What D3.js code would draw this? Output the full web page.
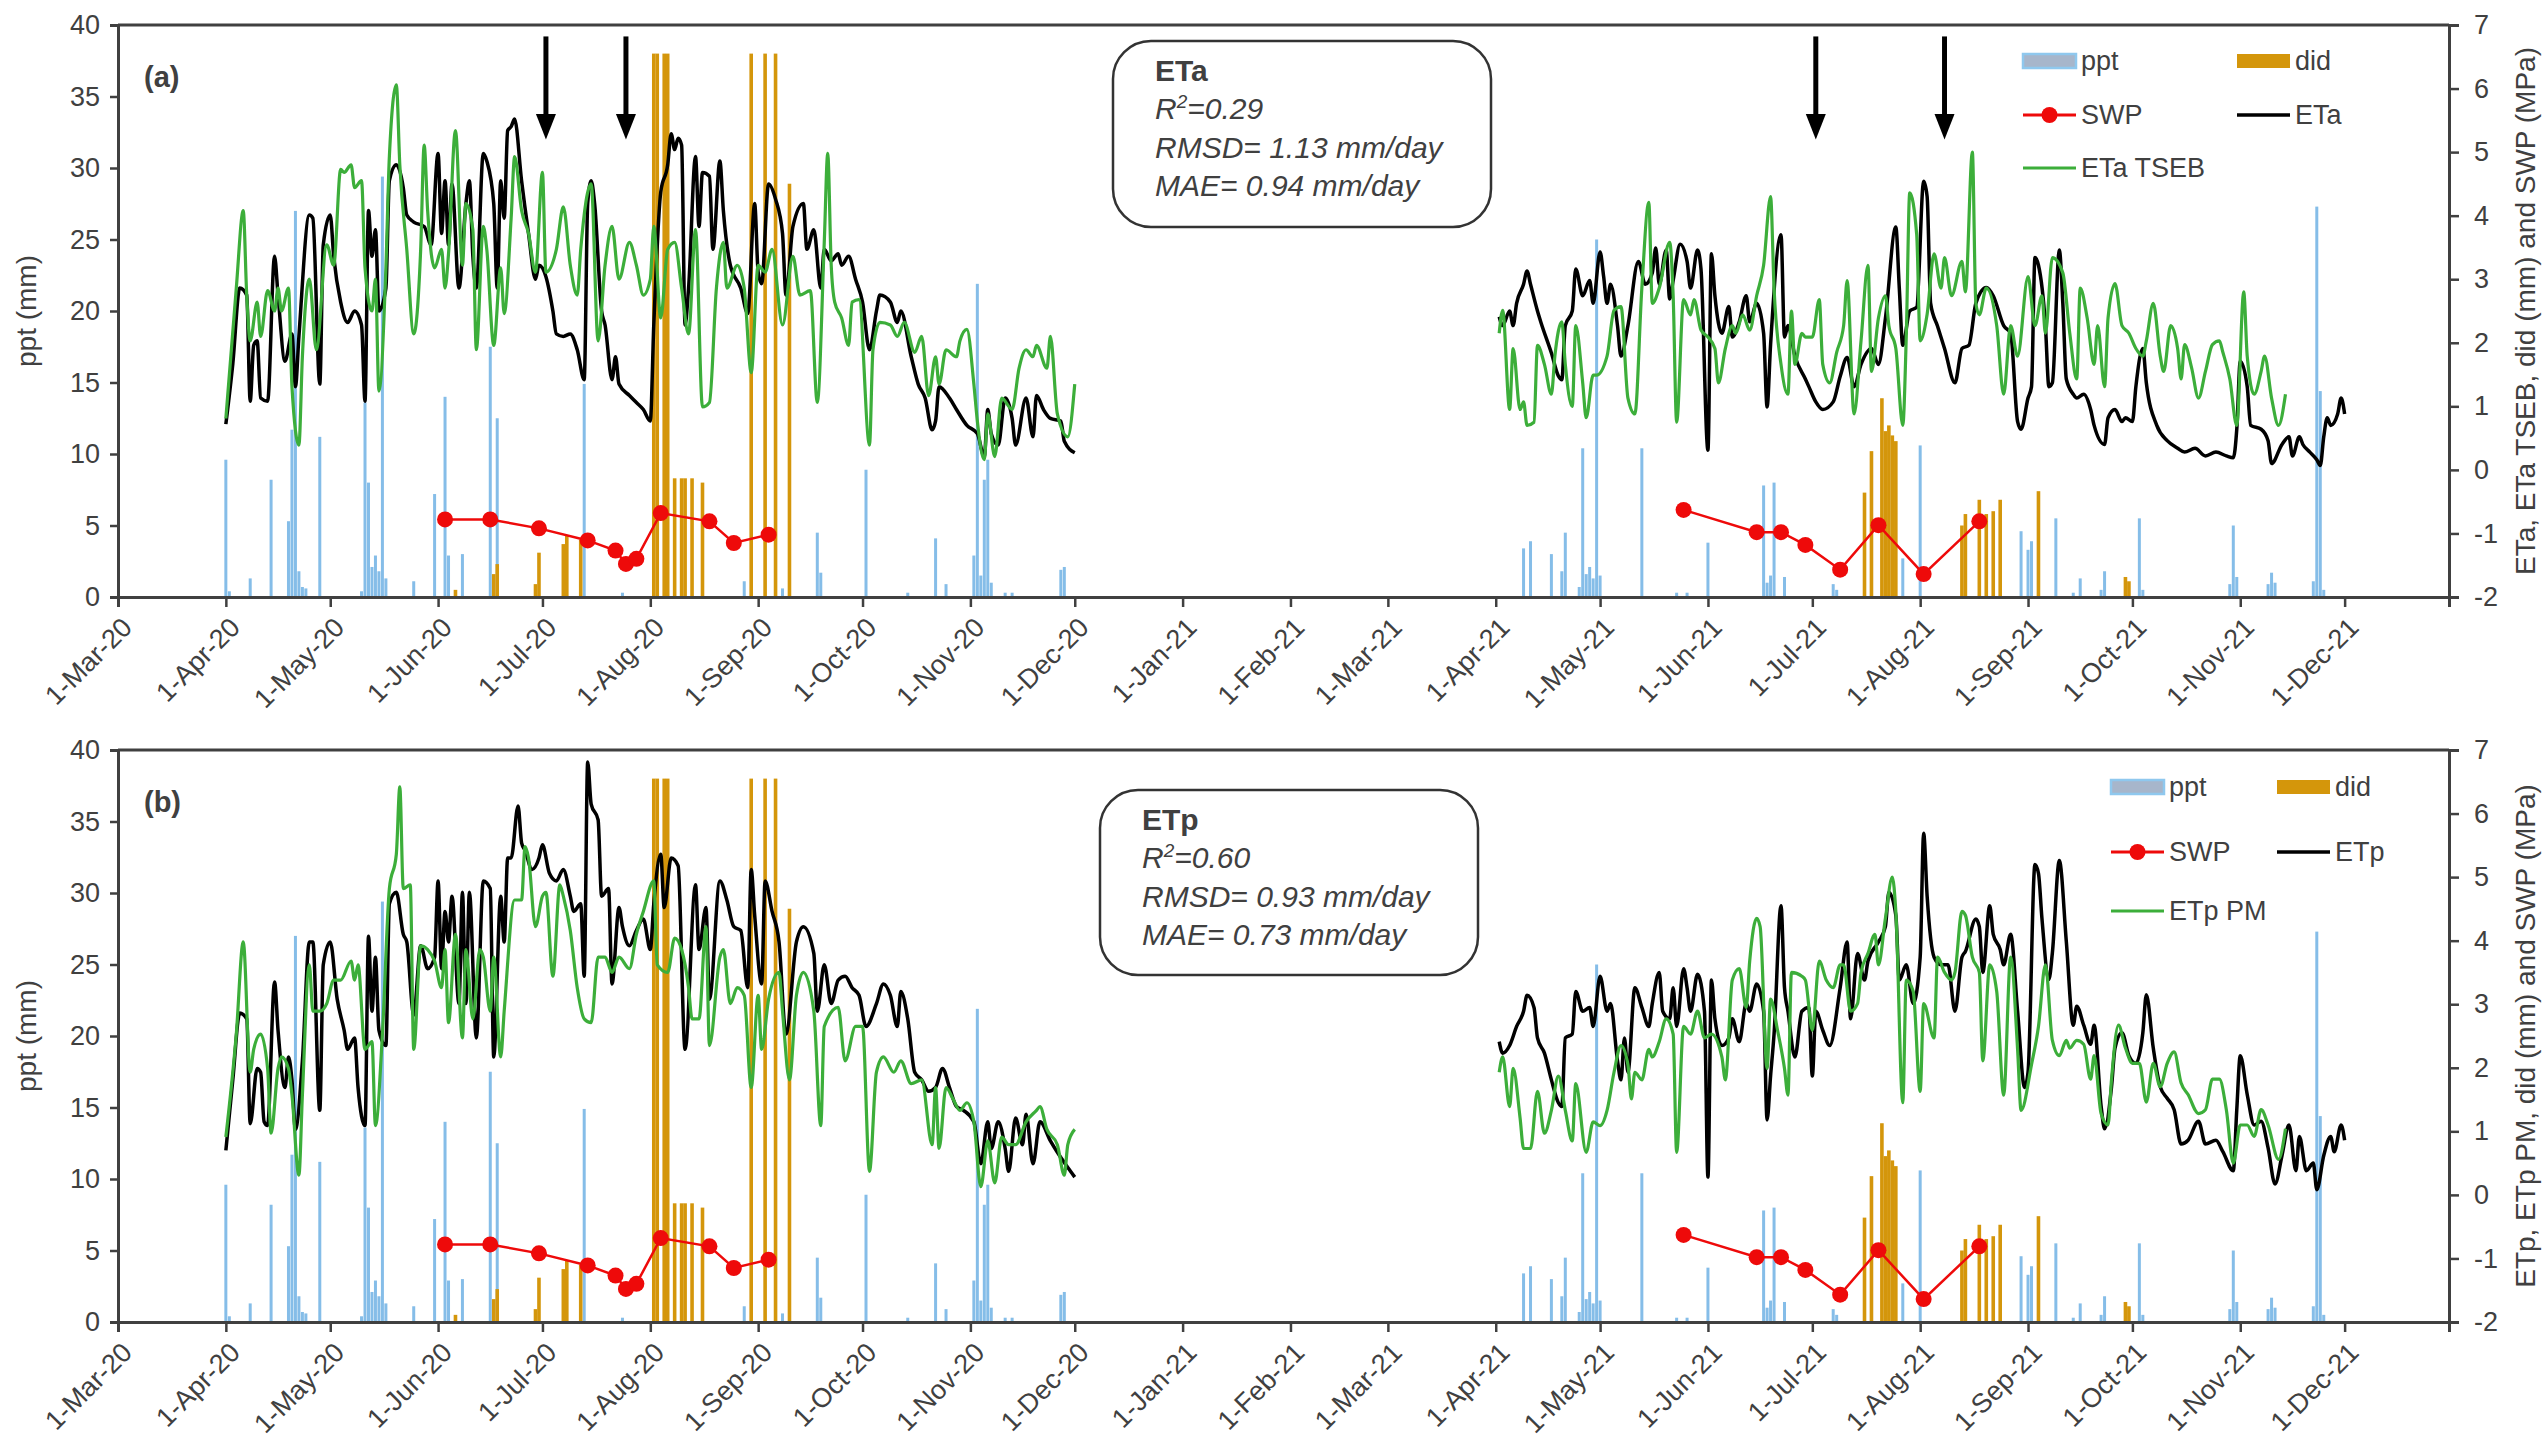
<!DOCTYPE html>
<html>
<head>
<meta charset="utf-8">
<script src="https://cdn.jsdelivr.net/npm/d3@7"></script>
<style>
  body { margin: 0; background: #fff; }
  svg text { font-family: "Liberation Sans", Arial, sans-serif; fill: #404040; }
</style>
</head>
<body>
<svg id="chart" width="2548" height="1449"></svg>
<script>
/* all day numbers are days after 1-Mar-2020 */
var monthTickStart = "2020-03-01";
var monthTickEnd = "2021-12-01";
var axisEnd = "2021-12-31";
var leftTicks = [0, 5, 10, 15, 20, 25, 30, 35, 40];
var rightTicks = [-2, -1, 0, 1, 2, 3, 4, 5, 6, 7];

/* precipitation, mm */
var ppt = [[31,9.6],[32,0.4],[38,1.3],[44,8.2],[49,5.3],[50,11.7],[51,27.0],[52,1.8],[53,0.7],[54,0.6],[58,11.2],
  [70,0.4],[71,13.6],[72,8.0],[73,2.1],[74,2.9],[75,1.8],[76,29.4],[77,1.3],[85,1.1],[91,7.2],[94,14.0],[95,2.9],
  [99,3.0],[107,17.5],[109,12.5],[134,14.9],[145,0.3],[180,1.1],[191,0.6],[201,4.5],[202,1.7],[215,8.9],[227,0.3],
  [235,4.1],[238,0.9],[246,2.9],[247,21.9],[248,1.5],[249,8.2],[250,9.6],[251,1.0],[255,0.3],[257,0.3],[271,1.9],[272,2.1],
  [404,3.4],[406,3.9],[412,3.0],[415,1.8],[416,4.5],[420,0.7],[421,10.4],[422,1.6],[423,2.1],[424,1.3],[425,25.0],[426,1.5],
  [438,10.4],[448,0.3],[451,0.3],[457,3.8],[473,7.8],[474,1.0],[475,1.5],[476,8.0],[479,1.4],[493,0.9],[494,0.5],
  [513,2.7],[518,10.6],[547,4.6],[549,3.3],[550,3.9],[557,5.5],[562,0.3],[564,1.3],[570,0.5],[571,1.8],[581,5.5],[582,0.5],
  [607,0.9],[608,5.0],[609,1.4],[618,0.9],[619,1.7],[620,1.0],[631,1.1],[632,27.3],[633,14.4],[634,0.5]];

/* deficit irrigation depth, mm */
var did = [[97,0.5],[108,1.6],[109,2.3],[120,0.9],[121,3.1],[128,3.7],[129,4.3],[133,4.0],
  [154,38],[155,38],[157,38],[158,38],[160,8.3],[162,8.3],[163,8.3],[165,8.3],[168,8.0],
  [182,38],[186,38],[189,38],[193,28.9],
  [502,7.3],[504,10.2],[507,13.9],[508,11.6],[509,12.0],[510,11.3],[511,10.9],
  [530,5.0],[531,5.8],[535,6.8],[537,5.8],[539,6.0],[541,6.8],[552,7.4],[577,1.4],[578,1.1]];

/* stem water potential, MPa */
var swp2020 = [[94,-0.78],[107,-0.78],[121,-0.92],[135,-1.11],[143,-1.27],[146,-1.48],[149,-1.40],[156,-0.68],[170,-0.81],[177,-1.15],[187,-1.02]];
var swp2021 = [[450,-0.63],[471,-0.98],[478,-0.98],[485,-1.18],[495,-1.57],[506,-0.87],[519,-1.64],[535,-0.81]];

/* ETa measured, mm/day */
var eta2020 = [[31,0.72],[33,1.67],[35,2.86],[37,2.75],[38,1.08],[39,1.96],[40,2.03],[41,1.13],[43,1.08],[45,3.36],[46,2.75],[48,1.71],[50,2.14],[51,1.31],[52,2.10],[55,4.01],[56,3.96],[58,1.35],[59,3.54],[61,4.01],[62,3.36],[64,2.64],[66,2.32],[68,2.50],[70,2.28],[71,1.08],[72,4.08],[73,3.36],[74,3.78],[75,2.50],[77,2.86],[78,4.55],[80,4.80],[82,4.44],[83,4.01],[85,3.90],[88,3.83],[90,3.54],[92,4.98],[93,3.72],[94,4.55],[95,3.54],[96,4.50],[98,2.86],[100,4.19],[101,4.55],[102,3.36],[103,2.86],[105,4.98],[106,4.86],[108,4.19],[109,2.86],[110,4.55],[111,3.96],[112,5.34],[113,5.40],[114,5.52],[116,4.55],[118,3.72],[120,3.00],[121,3.22],[123,3.04],[125,2.50],[126,2.14],[128,2.10],[130,2.14],[132,1.89],[134,1.42],[135,4.19],[136,4.55],[137,4.19],[139,2.50],[140,2.28],[142,1.42],[143,1.78],[144,1.35],[147,1.17],[149,1.06],[151,0.95],[153,0.77],[154,2.28],[156,4.37],[158,4.80],[159,5.29],[160,5.04],[161,5.22],[162,5.11],[163,2.28],[164,2.86],[166,4.93],[167,3.83],[168,4.68],[170,4.62],[171,3.47],[173,4.86],[174,4.08],[176,3.22],[179,2.86],[181,2.46],[183,4.19],[184,3.11],[185,2.93],[187,4.50],[189,4.26],[191,3.72],[192,2.75],[194,3.83],[197,4.19],[198,3.47],[200,3.78],[202,2.86],[203,3.47],[205,3.29],[207,3.40],[208,3.22],[210,3.36],[212,3.00],[214,2.64],[216,1.89],[218,2.50],[219,2.75],[222,2.64],[224,2.32],[225,2.50],[228,1.78],[230,1.35],[232,1.13],[234,0.63],[235,0.77],[236,1.31],[239,1.13],[241,0.95],[244,0.70],[247,0.57],[249,0.21],[250,0.95],[251,0.57],[253,0.39],[255,1.13],[257,0.81],[258,0.39],[261,1.13],[263,0.52],[264,1.17],[266,0.95],[268,0.81],[271,0.77],[272,0.45],[275,0.27]];
var eta2021 = [[397,2.41],[398,2.27],[400,2.50],[401,2.27],[402,2.62],[404,2.92],[405,3.13],[406,2.92],[408,2.50],[409,2.32],[412,1.84],[414,1.48],[415,1.42],[416,2.27],[418,2.50],[419,3.16],[421,2.74],[423,2.98],[424,2.62],[426,3.43],[427,3.05],[428,2.62],[429,2.92],[431,2.27],[432,1.79],[434,2.27],[437,3.28],[439,2.92],[441,3.10],[442,3.49],[443,2.92],[445,3.46],[446,2.69],[447,2.98],[449,3.55],[451,3.28],[452,2.86],[454,3.46],[455,3.16],[457,0.31],[458,3.40],[459,2.74],[461,2.15],[463,2.57],[464,2.09],[466,2.33],[468,2.74],[469,2.33],[471,2.62],[473,2.15],[474,0.99],[475,1.97],[478,3.70],[479,2.09],[480,2.27],[482,1.79],[485,1.43],[486,1.31],[488,1.07],[490,0.95],[493,1.07],[495,1.47],[497,1.77],[499,1.31],[501,1.66],[504,1.91],[506,1.66],[508,2.38],[511,3.82],[512,2.86],[513,1.96],[515,2.50],[517,2.56],[519,4.54],[520,4.30],[521,2.62],[523,2.26],[525,1.91],[528,1.37],[530,1.91],[532,1.96],[534,2.62],[537,2.87],[539,2.74],[542,2.27],[544,2.15],[546,0.76],[547,0.64],[549,1.13],[550,1.31],[551,3.34],[552,3.22],[554,2.27],[555,1.31],[556,1.37],[558,3.46],[559,2.62],[560,1.43],[562,1.19],[563,1.13],[565,1.19],[567,0.95],[568,0.70],[571,0.40],[572,0.82],[574,0.95],[576,0.76],[577,0.82],[579,0.76],[580,1.31],[582,1.91],[583,1.37],[586,0.70],[589,0.46],[592,0.34],[594,0.28],[597,0.34],[600,0.22],[603,0.28],[606,0.22],[608,0.19],[609,0.64],[610,1.71],[612,1.31],[613,0.70],[616,0.64],[618,0.46],[619,0.10],[622,0.40],[624,0.52],[625,0.22],[627,0.52],[628,0.40],[630,0.28],[632,0.16],[633,0.07],[634,0.52],[635,0.82],[636,0.70],[638,0.88],[639,1.13],[640,0.88]];

/* ETa TSEB model, mm/day */
var tseb2020 = [[31,0.81],[34,2.86],[36,4.08],[37,2.75],[38,2.03],[40,2.64],[41,2.10],[43,2.82],[45,2.50],[46,2.86],[47,2.50],[49,2.86],[50,1.31],[52,0.39],[53,1.78],[55,3.00],[57,1.89],[60,3.54],[62,3.22],[64,4.73],[65,4.68],[67,4.80],[68,4.44],[70,4.55],[71,3.18],[73,2.50],[74,3.00],[75,1.24],[77,3.18],[78,4.93],[80,6.06],[81,4.80],[83,3.47],[85,2.14],[87,3.47],[88,5.11],[89,4.08],[91,3.18],[93,3.47],[94,2.86],[95,3.40],[97,5.34],[99,3.22],[100,4.19],[102,3.78],[103,1.89],[105,3.83],[106,3.47],[108,1.96],[110,3.18],[111,2.46],[113,3.96],[114,4.93],[116,4.08],[118,3.72],[120,3.11],[122,4.68],[123,3.11],[126,3.47],[128,4.14],[130,3.22],[132,2.75],[133,3.47],[136,4.50],[138,2.03],[140,3.22],[142,3.83],[144,3.00],[147,3.58],[149,3.22],[151,2.75],[153,3.00],[154,3.83],[156,2.39],[158,3.47],[160,3.58],[162,2.86],[164,2.14],[166,3.78],[168,0.99],[170,1.06],[172,2.86],[174,3.58],[175,2.86],[178,3.22],[180,2.86],[182,1.53],[184,3.22],[186,3.11],[188,3.47],[191,2.28],[194,3.36],[196,2.75],[199,2.82],[201,1.06],[203,3.58],[204,4.98],[205,3.22],[206,2.64],[208,2.39],[210,1.96],[211,2.64],[213,2.68],[216,0.39],[217,1.89],[219,2.32],[222,2.28],[224,2.10],[226,2.32],[229,1.85],[231,2.10],[233,1.17],[235,1.78],[236,1.35],[238,1.89],[241,1.78],[242,2.03],[244,2.21],[246,1.35],[247,0.77],[249,0.16],[250,0.88],[252,0.21],[254,1.13],[257,0.95],[259,1.60],[261,1.89],[263,1.78],[264,1.96],[267,1.60],[268,2.10],[270,0.88],[273,0.52],[275,1.35]];
var tseb2021 = [[397,2.15],[398,2.51],[400,0.95],[401,1.91],[403,0.95],[404,1.07],[405,0.70],[407,0.75],[408,1.96],[410,1.66],[412,1.19],[413,1.79],[415,2.33],[416,1.66],[418,1.00],[419,2.27],[421,1.37],[422,0.82],[424,1.49],[425,1.49],[428,1.79],[430,2.51],[432,2.57],[434,1.13],[436,0.88],[438,2.86],[440,4.21],[441,2.62],[443,2.86],[446,3.58],[447,2.74],[448,0.75],[450,2.68],[452,2.44],[453,2.68],[455,2.20],[457,2.09],[459,1.91],[460,1.37],[462,1.91],[464,2.27],[465,2.15],[467,2.44],[469,2.20],[471,2.74],[473,3.22],[475,4.30],[476,2.86],[478,1.66],[480,1.19],[481,2.50],[482,1.66],[484,2.15],[485,2.09],[487,2.09],[489,2.68],[490,1.66],[492,1.37],[494,1.85],[496,2.27],[497,2.98],[499,0.88],[501,2.03],[503,3.22],[504,1.55],[506,2.39],[508,2.74],[509,2.27],[511,1.91],[513,0.70],[514,2.09],[515,4.36],[517,3.70],[518,2.03],[520,2.45],[522,3.40],[524,2.86],[525,3.34],[527,2.74],[530,3.28],[531,2.80],[533,5.00],[534,2.62],[535,2.44],[537,2.86],[540,2.27],[542,1.19],[544,2.27],[546,1.79],[549,3.04],[551,2.27],[553,2.74],[554,2.15],[556,3.34],[559,3.10],[561,2.15],[563,1.43],[564,2.86],[566,2.39],[568,1.66],[569,2.27],[571,1.31],[572,2.39],[574,2.93],[576,2.27],[578,2.15],[580,1.91],[582,1.79],[583,2.03],[585,2.62],[587,1.79],[588,1.55],[590,2.27],[592,1.91],[593,1.43],[594,1.97],[596,1.61],[598,1.13],[600,1.55],[602,1.97],[604,2.03],[605,1.85],[607,1.43],[609,0.70],[611,2.80],[612,1.79],[614,1.19],[616,1.55],[617,1.79],[619,1.13],[621,0.70],[623,1.19]];

/* ETp measured, mm/day */
var etp2020 = [[31,0.70],[33,1.81],[35,2.86],[37,2.77],[38,1.12],[40,1.99],[41,1.93],[42,1.15],[43,1.09],[45,3.35],[46,2.59],[48,1.69],[49,2.17],[50,1.81],[51,1.03],[53,2.11],[55,3.98],[56,3.98],[58,1.33],[59,3.62],[61,3.98],[63,3.08],[65,2.59],[66,2.29],[68,2.47],[69,1.69],[71,1.09],[72,4.07],[73,2.89],[74,3.74],[75,2.59],[77,2.35],[78,4.58],[80,4.76],[82,4.10],[83,3.98],[85,2.83],[87,3.92],[89,3.56],[91,3.74],[92,4.94],[93,3.56],[94,4.46],[95,3.98],[96,4.70],[98,3.01],[99,4.76],[100,3.01],[101,4.76],[103,2.47],[105,4.94],[107,4.82],[108,2.17],[110,4.70],[111,3.98],[112,5.30],[113,5.30],[115,6.12],[116,5.54],[117,5.42],[119,5.12],[121,5.30],[122,5.51],[124,5.06],[126,4.94],[128,5.12],[130,4.70],[131,4.46],[133,4.58],[134,3.44],[135,6.81],[136,6.15],[138,5.90],[139,4.70],[141,4.82],[142,3.32],[144,4.52],[145,4.22],[147,3.92],[149,4.16],[151,4.34],[153,3.86],[154,4.58],[156,5.36],[157,4.52],[159,5.30],[161,5.18],[163,2.29],[166,4.88],[167,3.86],[169,4.52],[170,3.08],[173,4.94],[175,4.64],[177,4.22],[179,4.16],[181,3.26],[182,5.12],[183,4.40],[185,3.32],[186,4.94],[188,4.46],[190,3.98],[192,2.53],[195,3.98],[197,4.22],[200,3.80],[201,2.89],[203,3.62],[205,3.01],[207,3.38],[209,3.44],[211,3.26],[213,3.14],[215,2.65],[218,3.01],[220,3.32],[222,3.14],[224,2.65],[225,3.20],[227,2.77],[229,1.93],[231,1.81],[233,1.63],[235,1.69],[237,1.99],[239,1.69],[241,1.39],[243,1.33],[246,1.15],[248,0.49],[250,1.15],[251,0.73],[253,1.15],[255,0.73],[256,0.37],[258,1.21],[260,0.79],[261,1.27],[263,0.49],[265,1.15],[268,0.85],[270,0.67],[273,0.43],[275,0.28]];
var etp2021 = [[397,2.41],[398,2.23],[400,2.35],[402,2.65],[404,2.89],[405,3.14],[407,2.95],[408,2.47],[410,2.23],[412,1.81],[414,1.45],[415,1.39],[416,2.47],[418,2.53],[419,3.20],[421,2.89],[423,2.95],[424,2.65],[426,3.44],[428,2.89],[429,3.01],[431,2.11],[432,1.81],[433,2.47],[434,1.93],[436,3.26],[438,2.95],[440,2.65],[441,3.01],[443,3.50],[444,2.89],[446,2.77],[447,3.26],[448,2.65],[450,3.56],[451,3.26],[452,2.89],[454,3.47],[456,2.89],[457,0.28],[458,3.38],[459,2.77],[461,2.35],[463,2.47],[464,2.77],[466,2.41],[468,3.01],[469,2.89],[471,3.32],[473,2.89],[474,1.18],[475,1.87],[476,2.53],[478,4.55],[479,3.26],[480,2.89],[482,2.17],[484,2.89],[486,2.95],[487,1.87],[488,2.89],[490,2.59],[492,2.35],[495,3.26],[497,3.98],[498,2.77],[500,3.80],[502,3.38],[503,3.68],[506,3.98],[508,4.22],[509,4.76],[511,4.40],[512,3.38],[514,3.62],[516,3.01],[518,3.74],[519,5.69],[520,4.70],[522,3.74],[524,3.62],[526,3.62],[528,2.89],[530,3.74],[531,3.83],[534,4.34],[535,4.22],[536,3.50],[538,4.55],[539,4.10],[541,3.86],[542,3.62],[544,4.10],[546,2.89],[548,1.69],[549,1.93],[551,5.20],[552,5.06],[553,4.35],[555,3.39],[556,3.81],[558,5.26],[560,3.99],[562,2.67],[563,2.97],[565,2.67],[567,2.37],[568,2.67],[570,1.40],[571,1.04],[573,1.70],[574,2.31],[576,2.55],[578,2.19],[580,2.07],[582,2.55],[583,3.15],[585,2.31],[587,1.70],[589,1.52],[591,1.34],[593,0.80],[595,0.86],[598,1.16],[600,0.80],[603,0.86],[605,0.68],[608,0.38],[609,1.34],[610,2.19],[612,1.58],[614,1.10],[616,1.16],[618,0.74],[620,0.17],[622,0.62],[624,1.10],[626,0.38],[627,0.92],[629,0.38],[631,0.50],[632,0.08],[634,0.62],[636,0.92],[637,0.68],[639,1.10],[640,0.86]];

/* ETp Penman-Monteith, mm/day */
var pm2020 = [[31,0.91],[34,2.53],[36,3.98],[38,1.93],[39,2.29],[41,2.53],[43,1.99],[44,0.97],[46,1.99],[47,2.17],[49,1.99],[50,1.57],[52,0.31],[53,1.57],[55,3.62],[56,2.89],[58,2.89],[60,3.01],[62,3.38],[64,3.38],[67,3.68],[68,3.38],[69,3.62],[71,2.29],[73,2.41],[74,1.09],[76,2.53],[78,4.82],[80,5.36],[81,6.42],[82,4.82],[84,4.88],[85,2.29],[87,3.92],[89,3.86],[91,3.68],[93,3.26],[94,3.86],[95,2.71],[97,4.10],[99,2.47],[100,3.86],[102,2.77],[104,3.86],[105,3.74],[107,2.89],[108,3.74],[110,2.17],[111,2.89],[114,4.64],[116,4.64],[117,5.48],[118,5.30],[120,4.22],[122,4.70],[123,4.76],[125,3.44],[127,4.88],[128,4.70],[130,4.16],[132,3.26],[134,2.77],[136,2.71],[138,3.74],[140,3.74],[142,3.50],[144,3.74],[147,3.56],[149,4.10],[151,4.46],[154,4.94],[155,3.62],[158,3.50],[160,4.04],[162,3.86],[164,3.26],[165,2.77],[167,2.77],[169,4.22],[170,2.35],[173,3.74],[174,3.86],[176,3.01],[178,3.26],[180,3.14],[182,1.69],[184,3.14],[185,2.29],[187,3.08],[190,3.50],[191,2.89],[193,1.81],[195,3.14],[197,3.50],[200,2.89],[202,1.09],[203,2.65],[207,2.95],[209,2.11],[212,2.65],[214,2.65],[216,0.37],[218,1.93],[220,2.17],[223,1.93],[225,2.11],[228,1.75],[231,1.81],[234,0.79],[235,1.69],[236,0.73],[238,1.69],[240,1.51],[242,1.33],[244,1.45],[246,1.15],[248,0.13],[250,0.85],[252,0.19],[254,0.91],[256,0.79],[258,0.79],[261,1.15],[264,1.33],[265,1.39],[267,1.03],[270,0.79],[272,0.31],[273,0.79],[275,1.03]];
var pm2021 = [[397,1.93],[398,2.17],[400,1.39],[401,1.99],[403,1.21],[404,0.73],[406,0.73],[408,1.63],[410,0.97],[412,1.33],[414,1.87],[416,1.33],[418,0.85],[419,1.75],[422,0.67],[424,1.15],[426,1.09],[428,1.33],[430,1.93],[432,2.35],[434,2.05],[435,1.51],[436,1.93],[438,1.81],[440,2.29],[441,2.17],[443,2.41],[445,2.77],[447,2.53],[448,0.67],[450,2.65],[452,2.53],[454,2.89],[456,2.47],[458,2.53],[461,2.17],[462,1.81],[464,3.38],[466,3.56],[468,2.95],[469,3.68],[471,4.35],[472,4.22],[474,1.99],[475,3.08],[477,2.59],[479,1.99],[480,1.57],[481,3.50],[484,3.44],[485,3.38],[487,2.59],[489,3.68],[491,3.38],[493,3.26],[495,3.62],[496,3.62],[498,2.89],[500,3.01],[501,3.50],[503,3.80],[505,4.10],[506,3.62],[508,4.35],[510,5.00],[511,4.46],[513,1.45],[514,3.38],[516,3.20],[518,1.63],[519,3.01],[522,2.47],[523,3.74],[525,3.50],[527,3.38],[528,3.50],[530,4.46],[531,4.40],[533,3.74],[535,3.50],[536,2.11],[538,3.62],[540,3.20],[542,1.57],[544,3.74],[546,2.29],[547,1.33],[550,2.05],[552,2.65],[554,3.62],[556,2.43],[558,2.19],[560,2.43],[561,2.31],[563,2.43],[565,2.37],[567,1.82],[568,2.19],[570,1.28],[572,1.10],[573,1.82],[575,2.67],[577,2.31],[579,2.07],[581,2.07],[583,1.46],[585,2.07],[587,1.70],[589,2.07],[591,2.25],[593,1.76],[595,1.58],[598,1.28],[600,1.34],[602,1.82],[604,1.82],[606,1.34],[608,0.50],[610,1.10],[612,1.10],[614,0.92],[616,1.34],[618,1.10],[621,0.56],[623,1.04]];

/* arrow annotations (days) */
var arrowDays = [123, 146, 488, 525];

var statsEta = ["ETa", "0.29", "RMSD= 1.13 mm/day", "MAE= 0.94 mm/day"];
var statsEtp = ["ETp", "0.60", "RMSD= 0.93 mm/day", "MAE= 0.73 mm/day"];

var width = 2548;
var height = 1449;
var left = 118;
var right = 2449;
var ink = "#404040";
var blue = "#85bde8";
var gold = "#d4960b";
var red = "#ee0a0a";
var green = "#3cae3a";

var svg = d3.select("#chart");
var t0 = new Date(Date.UTC(2020, 2, 1));
var toDate = function (d) { return d3.utcDay.offset(t0, d); };

var x = d3.scaleUtc()
  .domain([t0, new Date(axisEnd + "T00:00:00Z")])
  .range([left, right]);

var monthTicks = d3.utcMonth.range(new Date(monthTickStart + "T00:00:00Z"), d3.utcDay.offset(new Date(monthTickEnd + "T00:00:00Z"), 1));

var panels = [
  { top: 25, bottom: 597, tag: "(a)", black: [eta2020, eta2021], green: [tseb2020, tseb2021],
    blackName: "ETa", greenName: "ETa TSEB", stats: statsEta, arrows: true,
    rightTitle: "ETa, ETa TSEB, did (mm) and SWP (MPa)",
    box: { x: 1113, y: 41, w: 378, h: 186 },
    leg: { c1: 2023, c2: 2237, rows: [61, 115, 168] } },
  { top: 750, bottom: 1322, tag: "(b)", black: [etp2020, etp2021], green: [pm2020, pm2021],
    blackName: "ETp", greenName: "ETp PM", stats: statsEtp, arrows: false,
    rightTitle: "ETp, ETp PM, did (mm) and SWP (MPa)",
    box: { x: 1100, y: 790, w: 378, h: 185 },
    leg: { c1: 2111, c2: 2277, rows: [787, 852, 911] } }
];

panels.forEach(function (p) {
  var g = svg.append("g");
  var yL = d3.scaleLinear().domain([0, 40]).range([p.bottom, p.top]);
  var yR = d3.scaleLinear().domain([-2, 7]).range([p.bottom, p.top]);

  /* bars */
  g.append("g").selectAll("rect").data(ppt).enter().append("rect")
    .attr("x", function (d) { return x(toDate(d[0])) - 1.5; })
    .attr("width", 3)
    .attr("y", function (d) { return yL(d[1]); })
    .attr("height", function (d) { return yL(0) - yL(d[1]); })
    .attr("fill", blue);

  g.append("g").selectAll("rect").data(did).enter().append("rect")
    .attr("x", function (d) { return x(toDate(d[0])) - 1.8; })
    .attr("width", 3.6)
    .attr("y", function (d) { return yL(d[1]); })
    .attr("height", function (d) { return yL(0) - yL(d[1]); })
    .attr("fill", gold);

  var line = d3.line()
    .x(function (d) { return x(toDate(d[0])); })
    .y(function (d) { return yR(d[1]); })
    .curve(d3.curveMonotoneX);

  /* SWP */
  [swp2020, swp2021].forEach(function (s) {
    g.append("path").datum(s).attr("d", d3.line()
        .x(function (d) { return x(toDate(d[0])); })
        .y(function (d) { return yR(d[1]); }))
      .attr("fill", "none").attr("stroke", red).attr("stroke-width", 2.5);
    g.append("g").selectAll("circle").data(s).enter().append("circle")
      .attr("cx", function (d) { return x(toDate(d[0])); })
      .attr("cy", function (d) { return yR(d[1]); })
      .attr("r", 8).attr("fill", red);
  });

  p.black.forEach(function (s) {
    g.append("path").datum(s).attr("d", line)
      .attr("fill", "none").attr("stroke", "#000").attr("stroke-width", 3.5)
      .attr("stroke-linejoin", "round");
  });
  p.green.forEach(function (s) {
    g.append("path").datum(s).attr("d", line)
      .attr("fill", "none").attr("stroke", green).attr("stroke-width", 3.2)
      .attr("stroke-linejoin", "round");
  });

  /* axes */
  var axL = g.append("g").attr("transform", "translate(" + left + ",0)")
    .call(d3.axisLeft(yL).tickValues(leftTicks).tickSize(8).tickPadding(10));
  var axR = g.append("g").attr("transform", "translate(" + right + ",0)")
    .call(d3.axisRight(yR).tickValues(rightTicks).tickSize(10).tickPadding(15)
      .tickFormat(function (d) { return String(d); }));
  var axB = g.append("g").attr("transform", "translate(0," + p.bottom + ")")
    .call(d3.axisBottom(x).tickValues(monthTicks).tickSize(10)
      .tickFormat(d3.utcFormat("%-d-%b-%y")));
  axB.selectAll("text")
    .attr("x", -12).attr("y", 24).attr("dy", "0.35em")
    .attr("text-anchor", "end")
    .attr("transform", "rotate(-45)");
  [axL, axR, axB].forEach(function (a) {
    a.selectAll("path").attr("stroke", ink).attr("stroke-width", 3);
    a.selectAll("line").attr("stroke", ink).attr("stroke-width", 2.5);
    a.selectAll("text").style("font-size", "27px").attr("fill", ink);
  });
  g.append("line").attr("x1", left).attr("x2", right)
    .attr("y1", p.top).attr("y2", p.top)
    .attr("stroke", ink).attr("stroke-width", 3);

  /* axis titles */
  var mid = (p.top + p.bottom) / 2;
  g.append("text").attr("transform", "translate(36," + mid + ") rotate(-90)")
    .attr("text-anchor", "middle").style("font-size", "28px").text("ppt (mm)");
  g.append("text").attr("transform", "translate(2535," + mid + ") rotate(-90)")
    .attr("text-anchor", "middle").style("font-size", "28px").text(p.rightTitle);

  g.append("text").attr("x", 144).attr("y", p.top + 62)
    .style("font-size", "29px").style("font-weight", "bold").attr("fill", "#262626")
    .text(p.tag);

  /* arrows */
  if (p.arrows) {
    arrowDays.forEach(function (d) {
      var ax = x(toDate(d));
      g.append("line").attr("x1", ax).attr("x2", ax)
        .attr("y1", yR(6.82)).attr("y2", yR(5.5))
        .attr("stroke", "#000").attr("stroke-width", 5);
      g.append("path")
        .attr("d", "M" + (ax - 10) + "," + yR(5.6) + "L" + (ax + 10) + "," + yR(5.6) + "L" + ax + "," + yR(5.2) + "Z")
        .attr("fill", "#000");
    });
  }

  /* stats box */
  var b = p.box;
  g.append("rect").attr("x", b.x).attr("y", b.y).attr("width", b.w).attr("height", b.h)
    .attr("rx", 38).attr("fill", "#fff").attr("stroke", "#333").attr("stroke-width", 2.5);
  var tx = b.x + 42;
  g.append("text").attr("x", tx).attr("y", b.y + 40)
    .style("font-size", "30px").style("font-weight", "bold").attr("fill", "#262626")
    .text(p.stats[0]);
  var r2 = g.append("text").attr("x", tx).attr("y", b.y + 78)
    .style("font-size", "30px").style("font-style", "italic").attr("fill", "#262626");
  r2.append("tspan").text("R");
  r2.append("tspan").attr("dy", -11).style("font-size", "19px").text("2");
  r2.append("tspan").attr("dy", 11).text("=" + p.stats[1]);
  g.append("text").attr("x", tx).attr("y", b.y + 117)
    .style("font-size", "30px").style("font-style", "italic").attr("fill", "#262626")
    .text(p.stats[2]);
  g.append("text").attr("x", tx).attr("y", b.y + 155)
    .style("font-size", "30px").style("font-style", "italic").attr("fill", "#262626")
    .text(p.stats[3]);

  /* legend */
  var L = p.leg;
  var sw = 53;
  var lg = g.append("g");
  lg.append("rect").attr("x", L.c1).attr("y", L.rows[0] - 7).attr("width", sw).attr("height", 14)
    .attr("fill", "#a7b6cb").attr("stroke", "#8fc8ee").attr("stroke-width", 2.5);
  lg.append("rect").attr("x", L.c2).attr("y", L.rows[0] - 7).attr("width", sw).attr("height", 14)
    .attr("fill", gold);
  lg.append("line").attr("x1", L.c1).attr("x2", L.c1 + sw).attr("y1", L.rows[1]).attr("y2", L.rows[1])
    .attr("stroke", red).attr("stroke-width", 3);
  lg.append("circle").attr("cx", L.c1 + sw / 2).attr("cy", L.rows[1]).attr("r", 8).attr("fill", red);
  lg.append("line").attr("x1", L.c2).attr("x2", L.c2 + sw).attr("y1", L.rows[1]).attr("y2", L.rows[1])
    .attr("stroke", "#000").attr("stroke-width", 3.5);
  lg.append("line").attr("x1", L.c1).attr("x2", L.c1 + sw).attr("y1", L.rows[2]).attr("y2", L.rows[2])
    .attr("stroke", green).attr("stroke-width", 3);
  var labels = [[L.c1, 0, "ppt"], [L.c2, 0, "did"], [L.c1, 1, "SWP"], [L.c2, 1, p.blackName], [L.c1, 2, p.greenName]];
  labels.forEach(function (l) {
    lg.append("text").attr("x", l[0] + sw + 5).attr("y", L.rows[l[1]]).attr("dy", "0.35em")
      .style("font-size", "27px").attr("fill", "#262626").text(l[2]);
  });
});
</script>
</body>
</html>
